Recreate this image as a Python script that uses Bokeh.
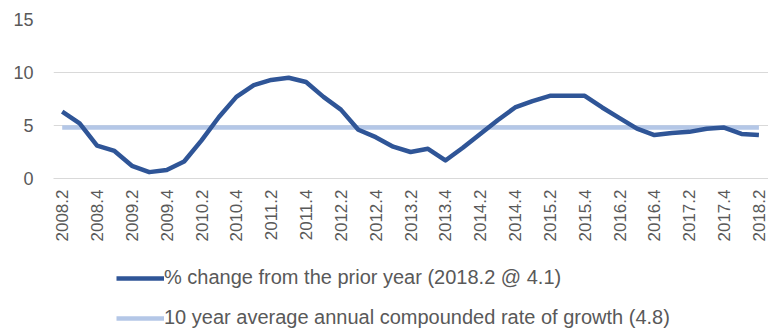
from bokeh.plotting import figure
from bokeh.layouts import column
from bokeh.models import Range1d, FixedTicker, Legend, LegendItem
from bokeh.embed import file_html
from bokeh.resources import INLINE
import math

quarters = [f"{y}.{q}" for y in range(2008, 2019) for q in (1, 2, 3, 4)][1:42]
pct_change = [6.3, 5.2, 3.1, 2.6, 1.2, 0.6, 0.8, 1.6, 3.6, 5.8,
              7.7, 8.8, 9.3, 9.5, 9.1, 7.7, 6.5, 4.6, 3.9, 3.0,
              2.5, 2.8, 1.7, 2.9, 4.2, 5.5, 6.7, 7.3, 7.8, 7.8,
              7.8, 6.7, 5.7, 4.7, 4.1, 4.3, 4.4, 4.7, 4.8, 4.2,
              4.1]
avg_growth = 4.8
y_ticks = [0, 5, 10, 15]
series_labels = ["% change from the prior year (2018.2 @ 4.1)",
                 "10 year average annual compounded rate of growth (4.8)"]

xs = list(range(len(quarters)))
font = "Liberation Sans"
gray = "#595959"
dark = "#2F5597"
light = "#B4C7E7"
W = 768

p = figure(width=W, height=245, output_backend="svg", toolbar_location=None,
           x_range=Range1d(-0.5, len(quarters) - 0.45), y_range=Range1d(0, 15),
           min_border_left=53, min_border_right=0, min_border_top=19, min_border_bottom=67)
p.outline_line_color = None

p.line(xs, [avg_growth] * len(xs), line_color=light, line_width=4.5)
p.line(xs, pct_change, line_color=dark, line_width=4.5, line_join="round")

p.xgrid.grid_line_color = None
p.ygrid.grid_line_color = "#d9d9d9"
p.ygrid.grid_line_width = 1

p.yaxis.ticker = FixedTicker(ticks=y_ticks)
p.yaxis.axis_line_color = None
p.yaxis.major_tick_line_color = None
p.yaxis.minor_tick_line_color = None
p.yaxis.major_tick_out = 0
p.yaxis.major_tick_in = 0
p.yaxis.major_label_standoff = 20
p.yaxis.major_label_text_font = font
p.yaxis.major_label_text_font_size = "18px"
p.yaxis.major_label_text_color = gray

p.xaxis.ticker = FixedTicker(ticks=xs[::2])
p.xaxis.major_label_overrides = {i: quarters[i] for i in xs[::2]}
p.xaxis.major_label_orientation = math.pi / 2
p.xaxis.axis_line_color = "#d9d9d9"
p.xaxis.major_tick_line_color = None
p.xaxis.minor_tick_line_color = None
p.xaxis.major_tick_out = 0
p.xaxis.major_tick_in = 0
p.xaxis.major_label_standoff = 11
p.xaxis.major_label_text_font = font
p.xaxis.major_label_text_font_size = "17px"
p.xaxis.major_label_text_color = gray

# legend panel
LH = 86
lg = figure(width=W, height=LH, output_backend="svg", toolbar_location=None,
            x_axis_type=None, y_axis_type=None,
            x_range=Range1d(0, 10), y_range=Range1d(0, 10),
            min_border_left=0, min_border_right=0, min_border_top=0, min_border_bottom=0)
lg.outline_line_color = None
lg.grid.visible = False
r_pct = lg.line([-5, -4], [-5, -5], line_color=dark, line_width=4.5)
r_avg = lg.line([-5, -4], [-5, -5], line_color=light, line_width=4.5)

legend = Legend(items=[LegendItem(label=series_labels[0], renderers=[r_pct]),
                       LegendItem(label=series_labels[1], renderers=[r_avg])],
                location=(63, 2), orientation="vertical",
                border_line_color=None, background_fill_alpha=0,
                padding=0, margin=0, spacing=17, label_height=22, glyph_height=22,
                glyph_width=48, label_standoff=0,
                label_text_font=font, label_text_font_size="20px", label_text_color=gray)
lg.add_layout(legend)

open("out.html", "w").write(file_html(column(p, lg, spacing=0), INLINE))
